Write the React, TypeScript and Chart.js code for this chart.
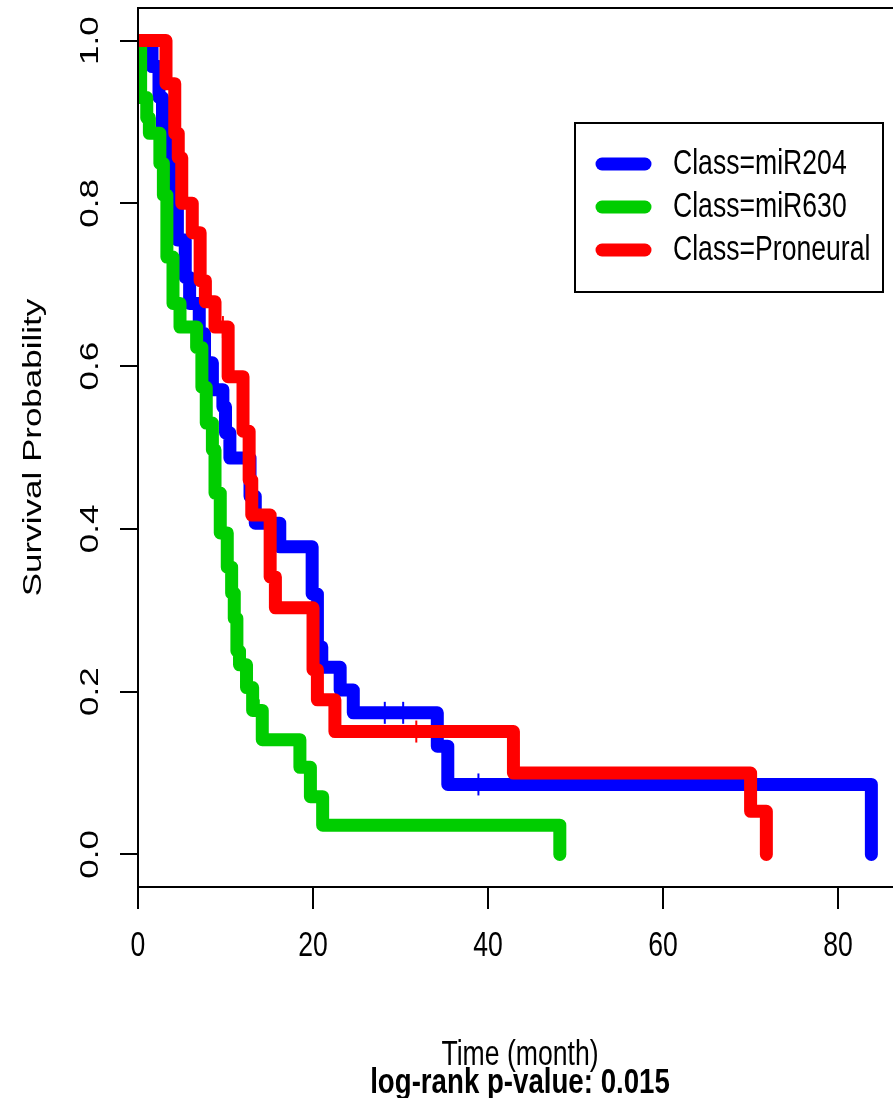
import React, { useEffect, useRef } from "react";
import { Chart, registerables } from "chart.js";

Chart.register(...registerables);

// ---- data ----
const xTicks = [0, 20, 40, 60, 80];
const yTicks = [0, 0.2, 0.4, 0.6, 0.8, 1.0];
const yTickLabels = ["0.0", "0.2", "0.4", "0.6", "0.8", "1.0"];
const seriesNames = ["Class=miR204", "Class=miR630", "Class=Proneural"];
const seriesColors = ["#0000FF", "#00CD00", "#FF0000"];

const miR204Time = [0, 1.6, 2.4, 2.8, 3.3, 3.8, 4.1, 4.5, 5.4, 5.9, 7.0, 7.6, 8.5, 9.7, 10.0, 10.5, 12.8, 13.4, 16.2, 19.9, 20.5, 21.0, 23.1, 24.6, 34.2, 35.4, 83.8];
const miR204Surv = [1, 0.968, 0.93, 0.893, 0.86, 0.83, 0.8, 0.755, 0.709, 0.677, 0.64, 0.604, 0.571, 0.55, 0.518, 0.487, 0.44, 0.407, 0.378, 0.32, 0.255, 0.23, 0.202, 0.174, 0.133, 0.086, 0];

const miR630Time = [0, 0.3, 1.0, 1.3, 2.5, 2.9, 3.3, 4.0, 4.8, 6.7, 7.3, 7.8, 8.5, 8.8, 9.4, 10.2, 10.7, 11.0, 11.3, 11.6, 12.4, 13.1, 14.2, 18.5, 19.7, 21.1, 48.2];
const miR630Surv = [1, 0.93, 0.905, 0.886, 0.849, 0.81, 0.734, 0.677, 0.648, 0.623, 0.574, 0.53, 0.497, 0.444, 0.395, 0.353, 0.321, 0.29, 0.25, 0.233, 0.205, 0.177, 0.141, 0.107, 0.071, 0.036, 0];

const proneuralTime = [0, 3.2, 4.2, 4.6, 5.0, 6.2, 7.1, 7.7, 8.8, 10.3, 12.0, 12.7, 13.0, 15.1, 15.7, 20.0, 20.5, 22.5, 42.9, 70.0, 71.8];
const proneuralSurv = [1, 0.947, 0.886, 0.856, 0.8, 0.764, 0.705, 0.679, 0.648, 0.587, 0.52, 0.46, 0.417, 0.341, 0.303, 0.227, 0.19, 0.151, 0.1, 0.053, 0];

const miR204CensorTime = [28.2, 30.3, 38.9];
const miR204CensorSurv = [0.174, 0.174, 0.086];
const miR630CensorTime = [13.8];
const miR630CensorSurv = [0.177];
const proneuralCensorTime = [9.7, 12.5, 31.8];
const proneuralCensorSurv = [0.648, 0.52, 0.151];

const xTitle = "Time (month)";
const yTitle = "Survival Probability";
const subTitle = "log-rank p-value: 0.015";

// ---- layout / style ----
const W = 910;
const H = 1098;
const FONT = '"Liberation Sans", Arial, Helvetica, sans-serif';
const FS = 35;
const CONDENSE = 0.76;
const LW = 13;

function pts(t: number[], s: number[]) {
  return t.map((v, i) => ({ x: v, y: s[i] }));
}

function drawText(
  ctx: CanvasRenderingContext2D,
  s: string,
  x: number,
  y: number,
  opts: { bold?: boolean; align?: CanvasTextAlign; rot?: number; size?: number; condense?: number } = {}
) {
  ctx.save();
  ctx.translate(x, y);
  ctx.scale(opts.condense || CONDENSE, 1);
  ctx.rotate(opts.rot || 0);
  ctx.font = `${opts.bold ? "bold " : ""}${opts.size || FS}px ${FONT}`;
  ctx.textAlign = opts.align || "center";
  ctx.textBaseline = "middle";
  ctx.fillStyle = "#000";
  ctx.fillText(s, 0, 0);
  ctx.restore();
}

const decorPlugin = {
  id: "decor",
  afterDraw(chart: any) {
    const ctx: CanvasRenderingContext2D = chart.ctx;
    const { left, top, right, bottom } = chart.chartArea;
    const xs = chart.scales.x;
    const ys = chart.scales.y;
    // box
    ctx.save();
    ctx.strokeStyle = "#000";
    ctx.lineWidth = 2;
    ctx.strokeRect(left, top, right - left, bottom - top);
    ctx.restore();
    // x tick labels
    xTicks.forEach((v) => drawText(ctx, String(v), xs.getPixelForValue(v), 946));
    // y tick labels (rotated)
    yTicks.forEach((v, i) => drawText(ctx, yTickLabels[i], 91, ys.getPixelForValue(v), { rot: -Math.PI / 2 }));
    // titles
    drawText(ctx, yTitle, 34, (top + bottom) / 2, { rot: -Math.PI / 2 });
    drawText(ctx, xTitle, 520, 1055);
    drawText(ctx, subTitle, 520, 1083, { bold: true, condense: 0.79 });
    // legend
    const bx = 575, by = 123, bw = 308, bh = 169;
    ctx.save();
    ctx.fillStyle = "#fff";
    ctx.fillRect(bx, by, bw, bh);
    ctx.strokeStyle = "#000";
    ctx.lineWidth = 2;
    ctx.strokeRect(bx, by, bw, bh);
    seriesNames.forEach((name, i) => {
      const yy = 164 + i * 43;
      ctx.strokeStyle = seriesColors[i];
      ctx.lineWidth = LW;
      ctx.lineCap = "round";
      ctx.beginPath();
      ctx.moveTo(602, yy);
      ctx.lineTo(645, yy);
      ctx.stroke();
      drawText(ctx, name, 673, yy, { align: "left" });
    });
    ctx.restore();
  },
};

export default function App() {
  const ref = useRef<HTMLCanvasElement | null>(null);

  useEffect(() => {
    document.body.style.overflow = "hidden";
    const canvas = ref.current!;
    const lineDs = (label: string, t: number[], s: number[], color: string, order: number) => ({
      label,
      data: pts(t, s),
      borderColor: color,
      backgroundColor: color,
      borderWidth: LW,
      stepped: true,
      pointRadius: 0,
      fill: false,
      borderCapStyle: "round",
      borderJoinStyle: "round",
      clip: 0,
      order,
    });
    const censorDs = (label: string, t: number[], s: number[], color: string) => ({
      label,
      data: pts(t, s),
      borderColor: color,
      backgroundColor: color,
      showLine: false,
      pointStyle: "line",
      rotation: 90,
      pointRadius: 11,
      pointBorderWidth: 2,
      borderWidth: 2,
      clip: 0,
      order: -1,
    });
    const chart = new Chart(canvas, {
      type: "line",
      data: {
        datasets: [
          lineDs(seriesNames[0], miR204Time, miR204Surv, seriesColors[0], 3),
          lineDs(seriesNames[1], miR630Time, miR630Surv, seriesColors[1], 2),
          lineDs(seriesNames[2], proneuralTime, proneuralSurv, seriesColors[2], 1),
          censorDs("c1", miR204CensorTime, miR204CensorSurv, seriesColors[0]),
          censorDs("c2", miR630CensorTime, miR630CensorSurv, seriesColors[1]),
          censorDs("c3", proneuralCensorTime, proneuralCensorSurv, seriesColors[2]),
        ] as any,
      },
      options: {
        animation: false,
        responsive: false,
        devicePixelRatio: 1,
        layout: { autoPadding: false, padding: { left: 0, top: 8, right: 8, bottom: 0 } },
        plugins: { legend: { display: false }, tooltip: { enabled: false }, title: { display: false } },
        events: [],
        scales: {
          x: {
            type: "linear",
            position: "bottom",
            min: 0,
            max: 87.3,
            afterBuildTicks: (s: any) => {
              s.ticks = xTicks.map((v) => ({ value: v }));
            },
            afterFit: (s: any) => {
              s.height = 211;
            },
            ticks: { display: false },
            grid: { drawOnChartArea: false, drawTicks: true, tickLength: 22, color: "#000", lineWidth: 2 },
            border: { display: true, color: "#000", width: 2 },
          },
          y: {
            type: "linear",
            position: "left",
            min: -0.04,
            max: 1.04,
            afterBuildTicks: (s: any) => {
              s.ticks = yTicks.map((v) => ({ value: v }));
            },
            afterFit: (s: any) => {
              s.width = 138;
            },
            ticks: { display: false },
            grid: { drawOnChartArea: false, drawTicks: true, tickLength: 18, color: "#000", lineWidth: 2 },
            border: { display: true, color: "#000", width: 2 },
          },
        },
      } as any,
      plugins: [decorPlugin],
    });
    return () => chart.destroy();
  }, []);

  return (
    <div style={{ position: "fixed", left: 0, top: 0, width: W, height: H, background: "#fff" }}>
      <canvas ref={ref} width={W} height={H} style={{ width: W, height: H, display: "block" }} />
    </div>
  );
}
